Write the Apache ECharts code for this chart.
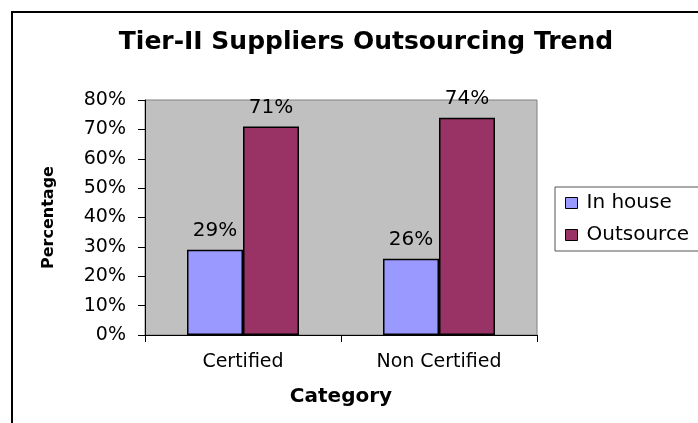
<!DOCTYPE html>
<html>
<head>
<meta charset="utf-8">
<script src="https://cdn.jsdelivr.net/npm/echarts@6/dist/echarts.min.js"></script>
<style>
  html, body { margin: 0; padding: 0; background: #fff; }
  #chart { width: 698px; height: 423px; }
</style>
</head>
<body>
<div id="chart"></div>
<script>
// data
const categories = ['Certified', 'Non Certified'];
const inHouse = [29, 26];
const outsource = [71, 74];
const yTicks = { min: 0, max: 80, step: 10 };

const font = 'DejaVu Sans';
const chartInstance = echarts.init(document.getElementById('chart'));

const barLabel = {
  show: true,
  position: 'top',
  distance: 9,
  color: '#000',
  fontFamily: font,
  fontSize: 20,
  formatter: '{c}%'
};

const option = {
  animation: false,
  backgroundColor: '#fff',
  textStyle: { fontFamily: font, color: '#000' },
  title: {
    text: 'Tier-II Suppliers Outsourcing Trend',
    left: 361,
    top: 25,
    textAlign: 'center',
    textStyle: { fontFamily: font, fontSize: 25, fontWeight: 'bold', color: '#000' }
  },
  graphic: [{
    type: 'rect',
    shape: { x: 12, y: 12, width: 800, height: 600 },
    style: { fill: 'none', stroke: '#000', lineWidth: 2 },
    z: 100
  }],
  legend: {
    orient: 'vertical',
    left: 555,
    top: 187,
    padding: [6, 10, 6, 10],
    borderColor: '#555',
    borderWidth: 1,
    itemWidth: 12,
    itemHeight: 11,
    itemGap: 12,
    icon: 'rect',
    textStyle: { fontFamily: font, fontSize: 20, color: '#000', padding: [0, 0, 0, 4] },
    itemStyle: { borderColor: '#000', borderWidth: 1 }
  },
  grid: {
    left: 145,
    top: 100,
    width: 392,
    height: 235,
    show: true,
    backgroundColor: '#C0C0C0',
    borderColor: '#808080',
    borderWidth: 1
  },
  xAxis: {
    type: 'category',
    data: categories,
    name: 'Category',
    nameLocation: 'middle',
    nameGap: 52,
    nameTextStyle: { fontFamily: font, fontSize: 20, fontWeight: 'bold', color: '#000' },
    axisLine: { lineStyle: { color: '#000', width: 1 } },
    axisTick: { show: true, length: 7, lineStyle: { color: '#000' } },
    axisLabel: { fontFamily: font, fontSize: 19, color: '#000', margin: 18 }
  },
  yAxis: {
    type: 'value',
    min: yTicks.min,
    max: yTicks.max,
    interval: yTicks.step,
    name: 'Percentage',
    nameLocation: 'middle',
    nameGap: 88,
    nameTextStyle: { fontFamily: font, fontSize: 16, fontWeight: 'bold', color: '#000' },
    axisLine: { show: true, lineStyle: { color: '#000', width: 1 } },
    axisTick: { show: true, length: 7, lineStyle: { color: '#000' } },
    splitLine: { show: false },
    axisLabel: { fontFamily: font, fontSize: 19, color: '#000', margin: 19, formatter: '{value}%' }
  },
  series: [
    {
      name: 'In house',
      type: 'bar',
      data: inHouse,
      barGap: '0%',
      barCategoryGap: '42.86%',
      itemStyle: { color: '#9999FF', borderColor: '#000', borderWidth: 1.5 },
      label: barLabel
    },
    {
      name: 'Outsource',
      type: 'bar',
      data: outsource,
      itemStyle: { color: '#993366', borderColor: '#000', borderWidth: 1.5 },
      label: barLabel
    }
  ]
};

chartInstance.setOption(option);
window.addEventListener('resize', () => chartInstance.resize());
</script>
</body>
</html>
